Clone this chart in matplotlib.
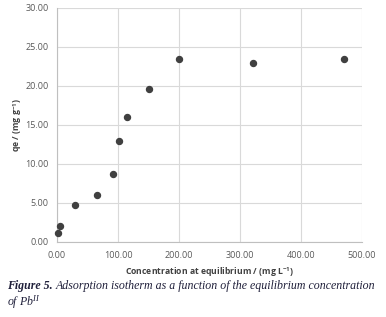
import matplotlib.pyplot as plt

# equilibrium concentration (mg/L) and adsorbed amount (mg/g)
ce = [1.6, 4.9, 29, 65, 92, 101, 115, 151, 199.5, 322, 471]
qe = [1.08, 2.02, 4.69, 5.97, 8.72, 12.93, 15.98, 19.6, 23.5, 22.9, 23.5]

xticks = [0, 100, 200, 300, 400, 500]
yticks = [0, 5, 10, 15, 20, 25, 30]

plt.rcParams['mathtext.fontset'] = 'custom'
plt.rcParams['mathtext.it'] = 'Liberation Serif:italic'
plt.rcParams['mathtext.rm'] = 'Liberation Serif'
plt.rcParams['mathtext.sf'] = 'Open Sans:bold'

fig = plt.figure(figsize=(3.86, 3.17), dpi=100)
ax = fig.add_axes([0.1477, 0.238, 0.790, 0.737])

ax.plot(ce, qe, 'o', color='#404040', markersize=4.3, zorder=3, clip_on=False)

ax.set_xlim(0, 500)
ax.set_ylim(0, 30)
ax.set_xticks(xticks)
ax.set_yticks(yticks)
ax.set_xticklabels(['%.2f' % v for v in xticks])
ax.set_yticklabels(['%.2f' % v for v in yticks])
ax.tick_params(length=0, labelsize=6.5, labelcolor='#595959',
               labelfontfamily='Open Sans')
ax.tick_params(axis='x', pad=6.5)
ax.tick_params(axis='y', pad=6)
ax.grid(True, color='#d9d9d9', linewidth=0.8)
ax.set_axisbelow(True)
for s in ['top', 'right']:
    ax.spines[s].set_visible(False)
for s in ['left', 'bottom']:
    ax.spines[s].set_color('#bfbfbf')
    ax.spines[s].set_linewidth(0.8)

ax.set_xlabel(r'Concentration at equilibrium / (mg L$^{\mathsf{-1}}$)', fontsize=6.2,
              fontfamily='Open Sans', fontweight='bold', color='#404040', labelpad=4)
ax.set_ylabel(r'qe / (mg g$^{\mathsf{-1}}$)', fontsize=6.2, fontfamily='Open Sans',
              fontweight='bold', color='#404040', labelpad=1)

fig.text(0.018, 0.098, 'Figure 5.', fontsize=8.6, fontfamily='Liberation Serif',
         fontstyle='italic', fontweight='bold', color='#1f1f3a', va='center')
fig.text(0.143, 0.098, 'Adsorption isotherm as a function of the equilibrium concentration',
         fontsize=8.6, fontfamily='Liberation Serif', fontstyle='italic',
         color='#1f1f3a', va='center')
fig.text(0.018, 0.047, 'of Pb$^{II}$', fontsize=8.6, fontfamily='Liberation Serif',
         fontstyle='italic', color='#1f1f3a', va='center')

fig.savefig('out.png', dpi=100)
